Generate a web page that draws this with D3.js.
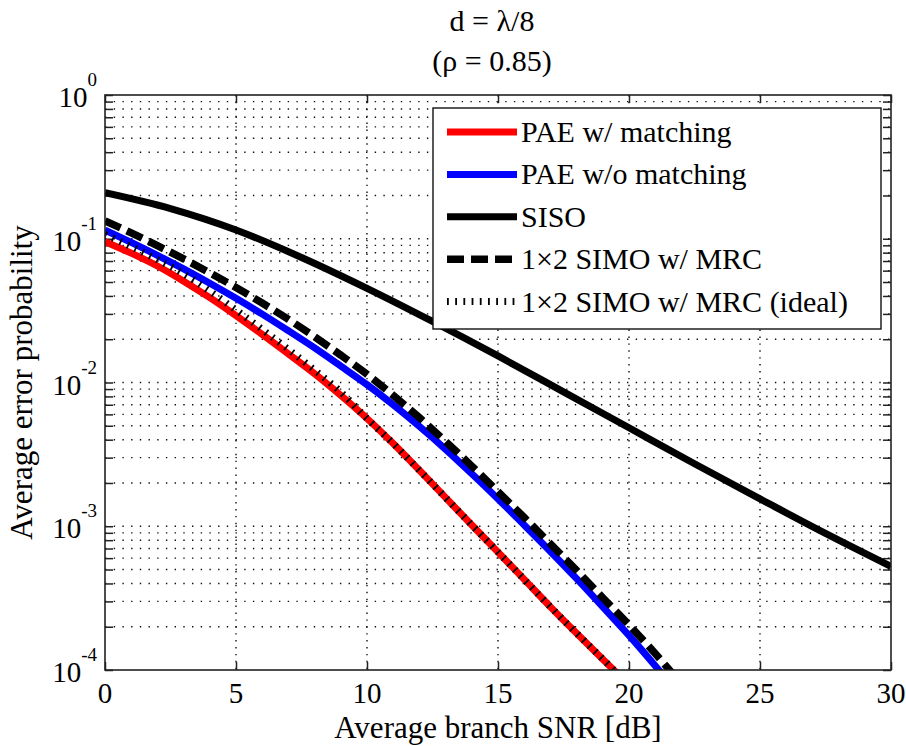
<!DOCTYPE html>
<html>
<head>
<meta charset="utf-8">
<script src="https://cdn.jsdelivr.net/npm/d3@7"></script>
<style>
    body { margin: 0; background: #fff; }
</style>
</head>
<body>
<svg width="906" height="746" font-family="'Liberation Serif', 'Liberation Sans', sans-serif"></svg>
<script>
// values (SNR in dB, average error probability)
var snrSiso = [0, 2.5, 5, 7.5, 10, 12.5, 15, 17.5, 20, 22.5, 25, 27.5, 30];
var perSiso = [0.209, 0.162, 0.115, 0.0741, 0.0452, 0.0266, 0.0153, 0.00861, 0.00484, 0.00272, 0.00155, 0.000891, 0.000525];

var snrPae = [0, 1, 2, 3, 4, 5, 6, 7, 8, 9, 10, 11, 12, 13, 14, 15, 16, 17, 18, 19, 20, 21, 22];
var perPaeMatch = [0.0955, 0.0794, 0.0646, 0.0507, 0.0389, 0.0292, 0.0216, 0.0158, 0.0115, 0.00813, 0.00562,
    0.00376, 0.00245, 0.00158, 0.00102, 0.000661, 0.000427, 0.000275, 0.00018, 0.000119, 0.0000785];
var perPaeNoMatch = [0.115, 0.0944, 0.0767, 0.0617, 0.049, 0.0385, 0.0299, 0.0229, 0.0174, 0.013, 0.00966,
    0.007, 0.00495, 0.00343, 0.00232, 0.00155, 0.00102, 0.000668, 0.000432, 0.000275, 0.000174, 0.000107, 0.0000646];

var snrSimo = [0, 1, 2, 3, 4, 5, 6, 7, 8, 9, 10, 11, 12, 13, 14, 15, 16, 17, 18, 19, 20, 21, 22];
var perSimoMrc = [0.133, 0.11, 0.0895, 0.0724, 0.0579, 0.0458, 0.0357, 0.0275, 0.0208, 0.0155, 0.0114,
    0.00813, 0.00569, 0.00389, 0.00262, 0.00174, 0.00115, 0.000755, 0.000493, 0.000318, 0.000206, 0.00013, 0.00008];
var perSimoIdeal = [0.107, 0.0881, 0.0716, 0.0569, 0.0432, 0.032, 0.0234, 0.017, 0.0122, 0.00861, 0.00562,
    0.00376, 0.00245, 0.00158, 0.00102, 0.000661, 0.000427, 0.000275, 0.00018, 0.000119, 0.0000785];

var xTicks = [0, 5, 10, 15, 20, 25, 30];
var yDecades = [0, -1, -2, -3, -4];
var seriesNames = ["PAE w/ matching", "PAE w/o matching", "SISO", "1\u00d72 SIMO w/ MRC", "1\u00d72 SIMO w/ MRC (ideal)"];

var svg = d3.select("svg"),
    margin = {top: 95, right: 15, bottom: 76, left: 105},
    width = +svg.attr("width") - margin.left - margin.right,
    height = +svg.attr("height") - margin.top - margin.bottom;

var x = d3.scaleLinear().domain([0, 30]).range([0, width]),
    y = d3.scaleLog().domain([1e-4, 1]).range([height, 0]);

var g = svg.append("g")
    .attr("transform", "translate(" + margin.left + "," + margin.top + ")");

var minorY = [];
yDecades.slice(1).forEach(function (e) {
    for (var k = 2; k <= 9; k++) minorY.push(k * Math.pow(10, e));
});
var majorY = yDecades.map(function (e) { return Math.pow(10, e); });
var allY = majorY.concat(minorY);

// grid
g.selectAll(".hgrid")
    .data(allY.filter(function (v) { return v < 1 && v > 1e-4; }))
    .enter().append("line")
    .attr("class", "hgrid")
    .attr("x1", 0).attr("x2", width)
    .attr("y1", function (d) { return y(d); })
    .attr("y2", function (d) { return y(d); })
    .attr("stroke", "#111")
    .attr("stroke-width", 1.4)
    .attr("stroke-dasharray", "1.4,7.3");

g.selectAll(".vgrid")
    .data(xTicks.slice(1, -1))
    .enter().append("line")
    .attr("class", "vgrid")
    .attr("x1", function (d) { return x(d); })
    .attr("x2", function (d) { return x(d); })
    .attr("y1", 0).attr("y2", height)
    .attr("stroke", "#111")
    .attr("stroke-width", 1.4)
    .attr("stroke-dasharray", "1.4,5.5");

// axes ticks (inward, mirrored)
function styleAxis(sel) {
    sel.select(".domain").remove();
    sel.selectAll("line").attr("stroke", "#222").attr("stroke-width", 1.5);
}
g.append("g").attr("transform", "translate(0," + height + ")")
    .call(d3.axisBottom(x).tickValues(xTicks).tickSize(-8).tickFormat("")).call(styleAxis);
g.append("g")
    .call(d3.axisTop(x).tickValues(xTicks).tickSize(-8).tickFormat("")).call(styleAxis);
g.append("g")
    .call(d3.axisLeft(y).tickValues(allY).tickSize(-8).tickFormat("")).call(styleAxis);
g.append("g").attr("transform", "translate(" + width + ",0)")
    .call(d3.axisRight(y).tickValues(allY).tickSize(-8).tickFormat("")).call(styleAxis);

// tick labels
g.selectAll(".xlab")
    .data(xTicks)
    .enter().append("text")
    .attr("x", function (d) { return x(d); })
    .attr("y", height + 33)
    .attr("text-anchor", "middle")
    .attr("font-size", 29)
    .text(function (d) { return d; });

var ylab = g.selectAll(".ylab")
    .data(yDecades)
    .enter().append("text")
    .attr("x", -8)
    .attr("y", function (d) { return y(Math.pow(10, d)) + 12; })
    .attr("text-anchor", "end");
ylab.append("tspan").attr("font-size", 29).text("10");
ylab.append("tspan").attr("font-size", 19).attr("dy", -21)
    .text(function (d) { return d === 0 ? "0" : "-" + Math.abs(d); });

// curves
g.append("clipPath").attr("id", "clip")
    .append("rect").attr("width", width).attr("height", height);

var line = d3.line()
    .x(function (d) { return x(d[0]); })
    .y(function (d) { return y(d[1]); })
    .curve(d3.curveMonotoneX);

function pairs(xs, ys) {
    return ys.map(function (v, i) { return [xs[i], v]; });
}

var series = [
    {data: pairs(snrPae, perPaeMatch), color: "#ff0000", width: 7, dash: null},
    {data: pairs(snrPae, perPaeNoMatch), color: "#0000ff", width: 7, dash: null},
    {data: pairs(snrSiso, perSiso), color: "#000", width: 7, dash: null},
    {data: pairs(snrSimo, perSimoMrc), color: "#000", width: 7.5, dash: "17,7"},
    {data: pairs(snrSimo, perSimoIdeal), color: "#000", width: 7, dash: "1.8,6.4"}
];

var curves = g.append("g").attr("clip-path", "url(#clip)");
curves.selectAll("path")
    .data(series)
    .enter().append("path")
    .attr("d", function (d) { return line(d.data); })
    .attr("fill", "none")
    .attr("stroke", function (d) { return d.color; })
    .attr("stroke-width", function (d) { return d.width; })
    .attr("stroke-dasharray", function (d) { return d.dash; });

// box
g.append("rect")
    .attr("width", width).attr("height", height)
    .attr("fill", "none").attr("stroke", "#222").attr("stroke-width", 1.6);

// legend
var legend = svg.append("g").attr("transform", "translate(433,108)");
legend.append("rect")
    .attr("width", 448).attr("height", 221)
    .attr("fill", "#fff").attr("stroke", "#111").attr("stroke-width", 1.4);
var rows = legend.selectAll(".row")
    .data(series)
    .enter().append("g")
    .attr("transform", function (d, i) { return "translate(0," + (24 + i * 42.4) + ")"; });
rows.append("line")
    .attr("x1", 14).attr("x2", 84)
    .attr("stroke", function (d) { return d.color; })
    .attr("stroke-width", function (d) { return d.width; })
    .attr("stroke-dasharray", function (d) { return d.dash; });
rows.append("text")
    .attr("x", 88).attr("y", 10)
    .attr("font-size", 30)
    .text(function (d, i) { return seriesNames[i]; });

// labels
svg.append("text")
    .attr("x", margin.left + width / 2)
    .attr("y", 738)
    .attr("text-anchor", "middle")
    .attr("font-size", 31)
    .text("Average branch SNR [dB]");

svg.append("text")
    .attr("transform", "translate(32," + (margin.top + height / 2) + ") rotate(-90)")
    .attr("text-anchor", "middle")
    .attr("font-size", 31)
    .text("Average error probability");

svg.append("text")
    .attr("x", 492).attr("y", 31)
    .attr("text-anchor", "middle")
    .attr("font-size", 30)
    .text("d = \u03bb/8");
svg.append("text")
    .attr("x", 492).attr("y", 71)
    .attr("text-anchor", "middle")
    .attr("font-size", 30)
    .text("(\u03c1 = 0.85)");
</script>
</body>
</html>
